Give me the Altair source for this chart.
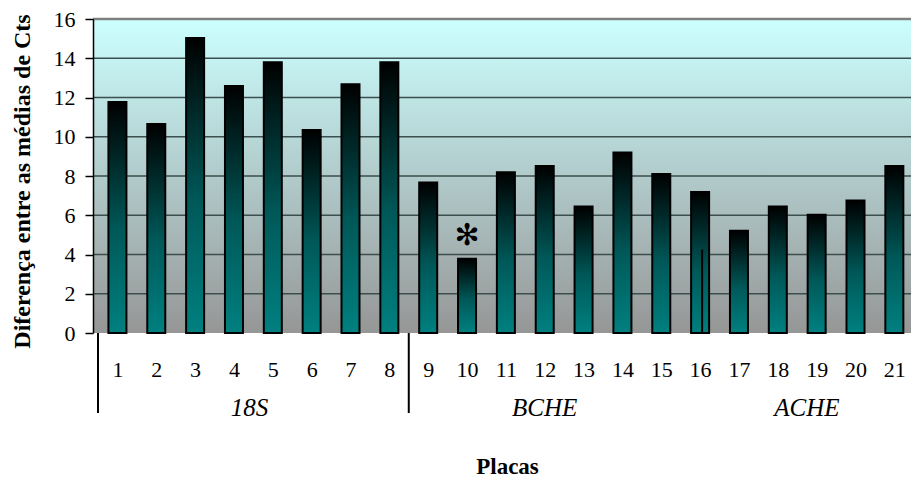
import altair as alt
import pandas as pd

# ---- data ----
placas = list(range(1, 22))
valores = [11.77, 10.65, 15.03, 12.58, 13.8, 10.34, 12.68, 13.79,
           7.67, 3.78, 8.19, 8.51, 6.44, 9.2, 8.1, 7.18,
           5.21, 6.44, 6.03, 6.75, 8.51]
marcados = [10]                # plate flagged with asterisk
linha16_placa = [16]
linha16_valor = [4.25]
y_ticks = [0, 2, 4, 6, 8, 10, 12, 14, 16]
grid_vals = [2, 4, 6, 8, 10, 12, 14]
grupos = ["18S", "BCHE", "ACHE"]
grupos_pos = [4.4, 12.0, 18.75]
separadores = [0.5, 8.5]

W, H = 818, 314
SERIF = "Liberation Serif"

df = pd.DataFrame({"Placa": placas, "valor": valores})
df_star = df[df["Placa"].isin(marcados)].assign(s="✻")
df_l16 = pd.DataFrame({"Placa": linha16_placa, "valor": linha16_valor, "v0": [0.05]})
df_grid = pd.DataFrame({"valor": grid_vals})
df_grp = pd.DataFrame({"Placa": grupos_pos, "g": grupos})
df_sep = pd.DataFrame({"Placa": separadores})
one = pd.DataFrame({"a": [0]})

xscale = alt.Scale(domain=[0.5, 21.3], nice=False, zero=False)
yscale = alt.Scale(domain=[0, 16], nice=False)

xaxis = alt.Axis(values=placas, format="d", ticks=False, tickSize=0, domain=False, grid=False,
                 labelFont=SERIF, labelFontSize=22, labelColor="black", labelPadding=26,
                 labelFlush=False, labelOverlap=False,
                 title="Placas", titleFont=SERIF, titleFontSize=23, titleFontWeight="bold",
                 titleColor="black", titleX=414, titleY=140, titleAlign="center",
                 titleBaseline="alphabetic", titleAnchor="start")
yaxis = alt.Axis(values=y_ticks, grid=False, tickSize=8, tickColor="black", tickWidth=1.5,
                 domainColor="black", domainWidth=1.5, zindex=1,
                 labelFont=SERIF, labelFontSize=22, labelColor="black", labelPadding=10,
                 title="Diferença entre as médias de Cts", titleFont=SERIF, titleFontSize=24,
                 titleFontWeight="bold", titleColor="black", titleX=-71, titleY=162,
                 titleAngle=270, titleAlign="center", titleBaseline="middle", titleAnchor="start")

X = alt.X("Placa:Q", scale=xscale, axis=xaxis)
Y = alt.Y("valor:Q", scale=yscale, axis=yaxis)

bg = alt.Chart(one).mark_rect(
    fill=alt.Gradient(gradient="linear",
                      stops=[alt.GradientStop(color="#CCFFFF", offset=0),
                             alt.GradientStop(color="#969696", offset=1)],
                      x1=0, x2=0, y1=0, y2=1)
).encode(x=alt.value(0), x2=alt.value(W), y=alt.value(0), y2=alt.value(H))

grid = alt.Chart(df_grid).mark_rule(color="#3c4e4e", strokeWidth=1.5).encode(y=Y)

top_border = alt.Chart(one).mark_rule(color="#808080", strokeWidth=2.5).encode(
    y=alt.value(0), x=alt.value(0), x2=alt.value(W))

bars = alt.Chart(df).mark_bar(
    size=18, stroke="black", strokeWidth=2,
    fill=alt.Gradient(gradient="linear",
                      stops=[alt.GradientStop(color="#000000", offset=0),
                             alt.GradientStop(color="#005858", offset=0.55),
                             alt.GradientStop(color="#008080", offset=1)],
                      x1=0, x2=0, y1=0, y2=1)
).encode(x=X, y=Y)

l16 = alt.Chart(df_l16).mark_rule(color="black", strokeWidth=2, xOffset=2).encode(
    x=X, y=Y, y2="v0:Q")

star = alt.Chart(df_star).mark_text(font="DejaVu Sans", fontSize=30,
                                    color="black", baseline="middle", dy=-23).encode(
    x=X, y=Y, text="s:N")

seps = alt.Chart(df_sep).mark_rule(color="black", strokeWidth=2).encode(
    x=X, y=alt.value(H), y2=alt.value(H + 80))

grp = alt.Chart(df_grp).mark_text(font=SERIF, fontSize=25, fontStyle="italic",
                                  color="black", baseline="middle").encode(
    x=X, y=alt.value(H + 75), text="g:N")

chart = alt.layer(bg, grid, top_border, bars, l16, star, seps, grp).properties(
    width=W, height=H,
    autosize=alt.AutoSizeParams(type="none"),
    padding={"left": 93, "top": 19, "right": 0, "bottom": 144},
    background="white"
).configure_view(stroke=None)

chart.save("out.html", embed_options={"renderer": "svg", "actions": False})
